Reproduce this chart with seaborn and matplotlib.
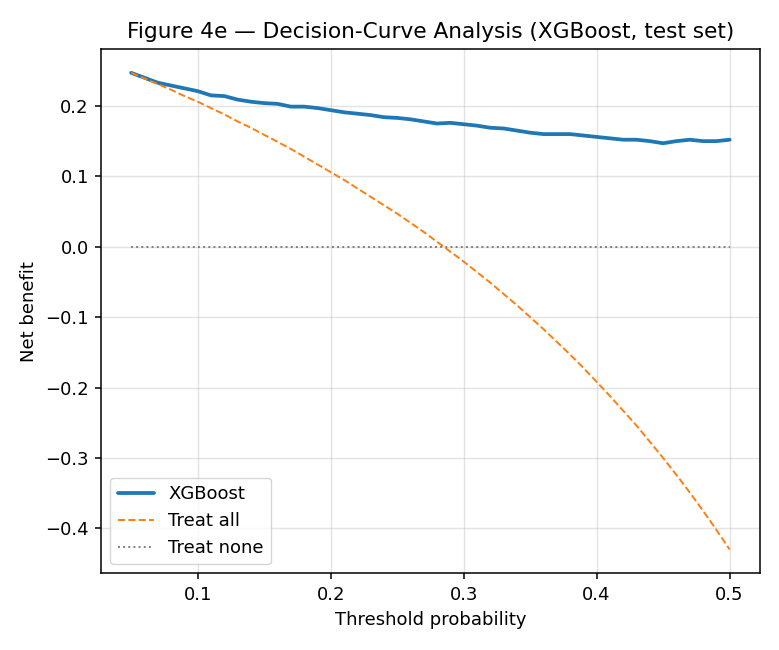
import matplotlib
matplotlib.use("Agg")
import matplotlib.pyplot as plt
import pandas as pd
import seaborn as sns

# Threshold probabilities (0.05 .. 0.50)
thresholds = [round(0.05 + 0.01 * i, 2) for i in range(46)]

# Net benefit of the model
nb_xgboost = [
    0.247, 0.240, 0.233, 0.229, 0.225, 0.221, 0.215, 0.214, 0.209, 0.206,
    0.204, 0.203, 0.199, 0.199, 0.197, 0.194, 0.191, 0.189, 0.187, 0.184,
    0.183, 0.181, 0.178, 0.175, 0.176, 0.174, 0.172, 0.169, 0.168, 0.165,
    0.162, 0.160, 0.160, 0.160, 0.158, 0.156, 0.154, 0.152, 0.152, 0.150,
    0.147, 0.150, 0.152, 0.150, 0.150, 0.152,
]

# Treat-all net benefit
nb_treat_all = [
    0.247, 0.239, 0.231, 0.223, 0.214, 0.206, 0.197, 0.188, 0.178, 0.169,
    0.159, 0.149, 0.139, 0.128, 0.117, 0.106, 0.095, 0.083, 0.071, 0.059,
    0.047, 0.034, 0.021, 0.007, -0.007, -0.021, -0.036, -0.051, -0.067, -0.083,
    -0.100, -0.117, -0.135, -0.153, -0.172, -0.192, -0.212, -0.233, -0.254, -0.277,
    -0.300, -0.324, -0.349, -0.375, -0.402, -0.430,
]

# Treat-none net benefit
nb_treat_none = [0.0] * len(thresholds)

df = pd.DataFrame({
    "threshold": thresholds,
    "xgb": nb_xgboost,
    "all": nb_treat_all,
    "none": nb_treat_none,
})

sns.set_style("ticks")
plt.rcParams["text.color"] = "black"
plt.rcParams["axes.labelcolor"] = "black"

fig, ax = plt.subplots(figsize=(7.79, 6.5), dpi=100)
fig.subplots_adjust(left=0.13, right=0.975, top=0.9246, bottom=0.118)

sns.lineplot(data=df, x="threshold", y="xgb", ax=ax, color="#1f77b4",
             linewidth=2.7, label="XGBoost")
sns.lineplot(data=df, x="threshold", y="all", ax=ax, color="#ff7f0e",
             linewidth=1.4, linestyle="--", label="Treat all")
sns.lineplot(data=df, x="threshold", y="none", ax=ax, color="gray",
             linewidth=1.4, linestyle=":", label="Treat none")

ax.grid(True, color="#b0b0b0", alpha=0.35, linewidth=1.0)
for side in ax.spines.values():
    side.set_color("black")
    side.set_linewidth(1.1)
ax.tick_params(colors="black", labelsize=13, length=4.5, width=1.1, pad=4.5)
ax.set_xlabel("Threshold probability", fontsize=13, labelpad=5)
ax.set_ylabel("Net benefit", fontsize=13, labelpad=5)
ax.set_title("Figure 4e \u2014 Decision-Curve Analysis (XGBoost, test set)",
             fontsize=15.6, pad=7.8)
ax.legend(loc="lower left", fontsize=13, frameon=True)

fig.savefig("out.png", dpi=100)
